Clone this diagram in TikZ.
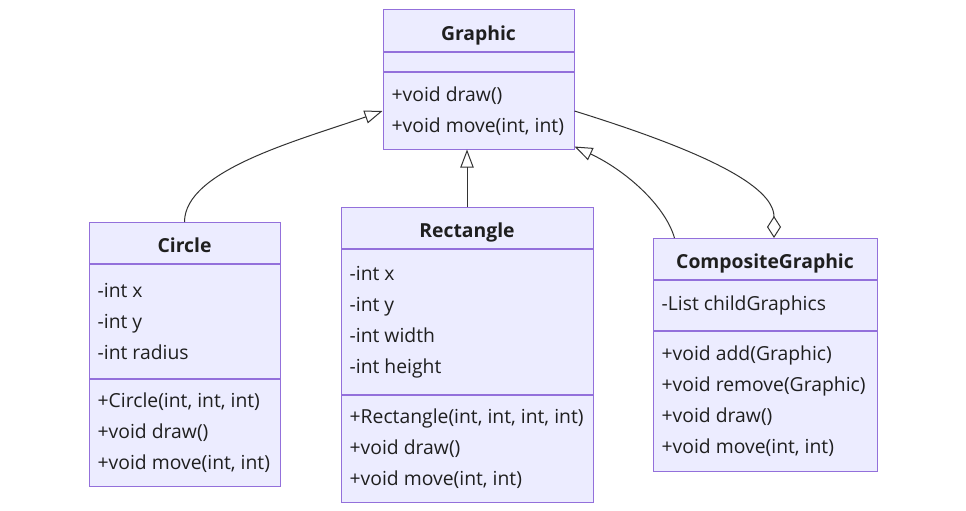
\documentclass[tikz,border=0pt]{standalone}
\usepackage{fontspec}
\setmainfont{Open Sans}
\usepackage{tikz}
\usetikzlibrary{positioning, arrows.meta}
\definecolor{BoxLine}{HTML}{9370DB}
\definecolor{BoxFill}{HTML}{ECECFF}
\definecolor{LinkGray}{HTML}{333333}
\definecolor{LabelInk}{HTML}{1F1F1F}

\begin{document}
\begin{tikzpicture}[x=0.75pt, y=-0.75pt,
    classbox/.style={draw=BoxLine, fill=BoxFill, line width=0.75pt, inner xsep=6.5pt, inner ysep=0pt, text=LabelInk, align=flush left, font=\fontsize{14.5pt}{23.25pt}\selectfont},
    classname/.style={classbox, align=center, font=\fontsize{14.5pt}{17pt}\selectfont\bfseries, text height=14.5pt, text depth=0pt, minimum height=30.75pt, anchor=north},
    inherits/.style={draw=LinkGray, line width=0.75pt, -{Triangle[open, length=13.5pt, width=10pt]}},
    aggregates/.style={draw=LinkGray, line width=0.75pt, {Diamond[open, length=16.5pt, width=10.5pt]}-}]
    \useasboundingbox (0,0) rectangle (966,510);
    \fill[white] (0,0) rectangle (966,510);

    % Graphic
    \node[classname, minimum width=143.25pt, minimum height=31.5pt] (graphicCls) at (478.5,9.5) {Graphic};
    \node[classbox, minimum width=143.25pt, minimum height=14.25pt, below=0pt of graphicCls] (graphicAttr) {};
    \node[classbox, text width=130.25pt, minimum height=57pt, below=0pt of graphicAttr] (graphicOps) {+void draw()\\+void move(int, int)};

    % Circle
    \node[classname, minimum width=143.25pt] (circleCls) at (184.5,222) {Circle};
    \node[classbox, text width=130.25pt, minimum height=85.5pt, below=0pt of circleCls] (circleAttr) {-int x\\-int y\\-int radius};
    \node[classbox, text width=130.25pt, minimum height=80.25pt, below=0pt of circleAttr] (circleOps) {+Circle(int, int, int)\\+void draw()\\+void move(int, int)};

    % Rectangle
    \node[classname, minimum width=189pt] (rectCls) at (467,207) {Rectangle};
    \node[classbox, text width=176pt, minimum height=108.75pt, below=0pt of rectCls] (rectAttr) {-int x\\-int y\\-int width\\-int height};
    \node[classbox, text width=176pt, minimum height=80.25pt, below=0pt of rectAttr] (rectOps) {+Rectangle(int, int, int, int)\\+void draw()\\+void move(int, int)};

    % CompositeGraphic
    \node[classname, minimum width=168pt] (compositeCls) at (765,238) {CompositeGraphic};
    \node[classbox, text width=155pt, minimum height=37.5pt, below=0pt of compositeCls] (compositeAttr) {-List childGraphics};
    \node[classbox, text width=155pt, minimum height=105pt, below=0pt of compositeAttr] (compositeOps) {+void add(Graphic)\\+void remove(Graphic)\\+void draw()\\+void move(int, int)};

    % links
    \draw[inherits] (circleCls.north) .. controls (184.5,170) and (300,140) .. (graphicOps.west);
    \draw[inherits] (rectCls.north) -- (rectCls.north |- graphicOps.south);
    \draw[inherits] ([xshift=16.5pt]compositeCls.north west) .. controls (665,205) and (625,170) .. ([yshift=2.25pt]graphicOps.south east);
    \draw[aggregates] ([xshift=6.75pt]compositeCls.north) .. controls (774,185) and (700,150) .. (graphicOps.east);
\end{tikzpicture}
\end{document}
